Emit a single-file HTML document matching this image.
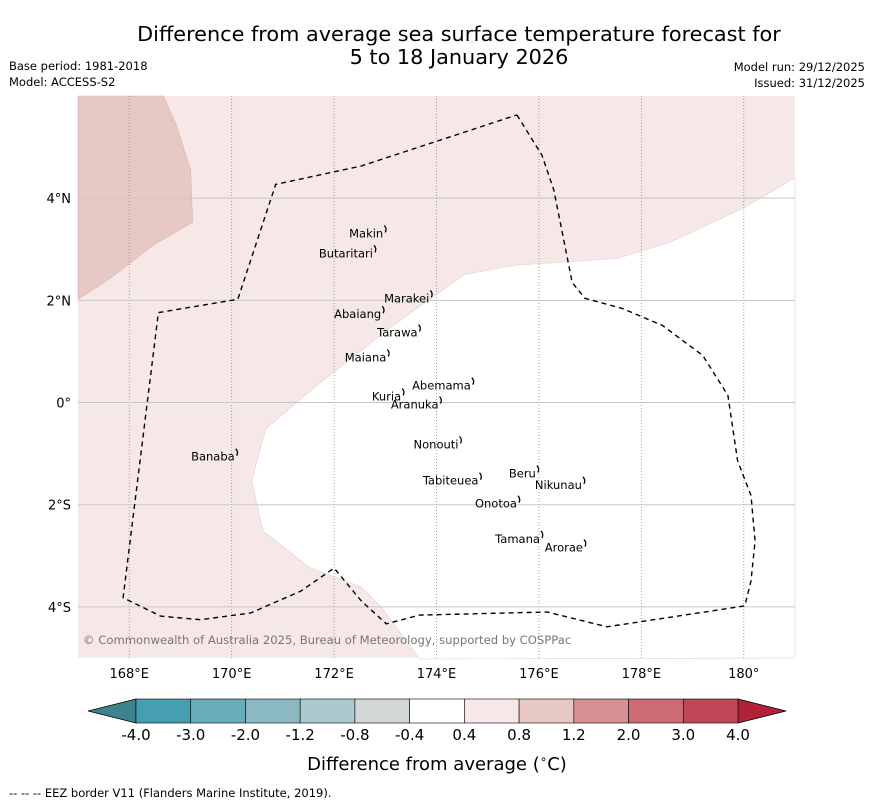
<!DOCTYPE html>
<html><head><meta charset="utf-8"><style>
body{margin:0;background:#fff;font-family:"DejaVu Sans","Liberation Sans",sans-serif;}
svg{display:block}
</style></head><body>
<svg id="chart" width="873" height="804" xmlns="http://www.w3.org/2000/svg" font-family="DejaVu Sans, Liberation Sans, sans-serif">
<text x="459" y="41" font-size="20.8" text-anchor="middle">Difference from average sea surface temperature forecast for</text>
<text x="459" y="64" font-size="20.8" text-anchor="middle">5 to 18 January 2026</text>
<text x="9" y="70" font-size="11.5">Base period: 1981-2018</text>
<text x="9" y="86" font-size="11.5">Model: ACCESS-S2</text>
<text x="865" y="71" font-size="11.5" text-anchor="end">Model run: 29/12/2025</text>
<text x="865" y="87" font-size="11.5" text-anchor="end">Issued: 31/12/2025</text>
<g id="map"></g>
<g id="cbar"></g>
<text x="437" y="770" font-size="18" text-anchor="middle">Difference from average (<tspan font-size="12" dy="-7">∘</tspan><tspan dy="7">C)</tspan></text>
<text x="9" y="797" font-size="11.5">--  --  -- EEZ border V11 (Flanders Marine Institute, 2019).</text>
</svg>
<script>
const NS="http://www.w3.org/2000/svg";
const lonTicks=[168,170,172,174,176,178,180];
const lonLabels=["168°E","170°E","172°E","174°E","176°E","178°E","180°"];
const latTicks=[4,2,0,-2,-4];
const latLabels=["4°N","2°N","0°","2°S","4°S"];
const eezLon=[175.57,176.06,176.29,176.65,176.9,177.63,178.41,179.2,179.69,179.88,180.14,180.22,180.14,180.02,177.33,176.16,173.67,173.02,172.53,172.0,171.35,170.37,169.39,168.61,167.88,168.57,170.12,170.86,172.53,173.9,175.57];
const eezLat=[5.63,4.84,4.16,2.35,2.04,1.84,1.51,0.92,0.14,-1.14,-1.82,-2.71,-3.49,-3.98,-4.39,-4.1,-4.16,-4.33,-3.88,-3.24,-3.69,-4.12,-4.25,-4.18,-3.82,1.76,2.02,4.27,4.63,5.08,5.63];
const whiteLon=[181,179.98,178.57,177.53,175.57,174.55,173.02,171.55,170.67,170.39,170.61,171.51,172.53,172.92,173.67,181];
const whiteLat=[4.4,3.8,3.14,2.82,2.69,2.51,1.41,0.24,-0.51,-1.53,-2.51,-3.22,-3.61,-4.0,-5.02,-5];
const warmLon=[167,168.67,168.92,169.2,169.24,168.47,167.63,167];
const warmLat=[6,6,5.43,4.55,3.53,3.08,2.43,2.02];
const islandNames=["Makin","Butaritari","Marakei","Abaiang","Tarawa","Maiana","Abemama","Kuria","Aranuka","Nonouti","Banaba","Beru","Tabiteuea","Nikunau","Onotoa","Tamana","Arorae"];
const islandLon=[172.96,172.76,173.86,172.92,173.63,173.02,174.67,173.31,174.04,174.43,170.06,175.94,174.82,176.84,175.57,176.02,176.86];
const islandLat=[3.31,2.92,2.04,1.73,1.37,0.88,0.33,0.12,-0.04,-0.82,-1.06,-1.39,-1.53,-1.61,-1.98,-2.67,-2.84];
const cbBounds=["-4.0","-3.0","-2.0","-1.2","-0.8","-0.4","0.4","0.8","1.2","2.0","3.0","4.0"];
const cbColors=["#459fb0","#68adba","#8ab9c4","#aacacd","#d3d6d6","#ffffff","#f5e8e6","#e8c8c4","#d98f96","#cd6b74","#c04655"];
const X0=78,X1=795,Y0=96,Y1=658;
const xs=lon=>X0+(lon-167)*(X1-X0)/14;
const ys=lat=>Y0+(6-lat)*(Y1-Y0)/11;
const map=document.getElementById('map');
function mk(tag,attrs,parent){const e=document.createElementNS(NS,tag);for(const k in attrs)e.setAttribute(k,attrs[k]);parent.appendChild(e);return e;}
function pts(lo,la){return lo.map((v,i)=>xs(v).toFixed(1)+","+ys(la[i]).toFixed(1)).join(" ");}
let bg=mk('rect',{x:X0,y:Y0,width:X1-X0,height:Y1-Y0,fill:'#f5e8e6'},map);


let wp=mk('polygon',{points:pts(whiteLon,whiteLat),fill:'#ffffff',stroke:'#e0d0ce','stroke-width':0.6},map);


let rp=mk('polygon',{points:pts(warmLon,warmLat),fill:'#e8c8c4',stroke:'#d8b8b4','stroke-width':0.6},map);


lonTicks.forEach((t,i)=>{
 let l=mk('line',{x1:xs(t),x2:xs(t),y1:Y0,y2:Y1,stroke:'#888','stroke-width':0.8,'stroke-dasharray':'1,2'},map);
 
 
 let tx=mk('text',{x:xs(t),y:678,'font-size':13,'text-anchor':'middle'},map);tx.textContent=lonLabels[i];
 
 
});
latTicks.forEach((t,i)=>{
 let l=mk('line',{x1:X0,x2:X1,y1:ys(t),y2:ys(t),stroke:'#c8c8c8','stroke-width':1},map);
 
 
 let tx=mk('text',{x:71,y:ys(t)+5,'font-size':13,'text-anchor':'end'},map);tx.textContent=latLabels[i];
 
 
});
let ez=mk('polyline',{points:pts(eezLon,eezLat),fill:'none',stroke:'#000','stroke-width':1.4,'stroke-dasharray':'5,4'},map);


islandNames.forEach((n,i)=>{
 let m=mk('path',{d:`M${xs(islandLon[i])+1},${ys(islandLat[i])-8} q3,3 1,7`,fill:'none',stroke:'#000','stroke-width':1.3},map);
 
 
 let tx=mk('text',{x:xs(islandLon[i]),y:ys(islandLat[i])+4,'font-size':11.5,'text-anchor':'end'},map);tx.textContent=n;
 
 
});
let cp=mk('text',{x:83,y:644,'font-size':11.6,fill:'#777'},map);cp.textContent="© Commonwealth of Australia 2025, Bureau of Meteorology, supported by COSPPac";


const cb=document.getElementById('cbar');
const CB0=136,CB1=738,CT=699,CBm=723,w=(CB1-CB0)/cbColors.length;
let tl=mk('polygon',{points:`88,711 ${CB0},${CT} ${CB0},${CBm}`,fill:'#3d838f',stroke:'#000','stroke-width':0.8},cb);


let tr=mk('polygon',{points:`786,711 ${CB1},${CT} ${CB1},${CBm}`,fill:'#b0213a',stroke:'#000','stroke-width':0.8},cb);


cbColors.forEach((c,i)=>{
 let r=mk('rect',{x:CB0+i*w,y:CT,width:w,height:CBm-CT,fill:c,stroke:'#000','stroke-width':0.6},cb);
 
 
});
cbBounds.forEach((b,i)=>{
 let tx=mk('text',{x:CB0+i*w,y:740,'font-size':15,'text-anchor':'middle'},cb);tx.textContent=b;
 
 
});
</script>
</body></html>
